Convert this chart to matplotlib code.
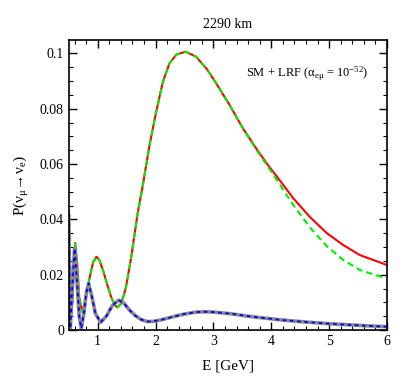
import matplotlib
matplotlib.use('Agg')
import matplotlib.pyplot as plt
from matplotlib.ticker import MultipleLocator, FuncFormatter

plt.rcParams['font.family'] = ['Liberation Serif', 'DejaVu Serif']
plt.rcParams['mathtext.fontset'] = 'custom'
plt.rcParams['mathtext.rm'] = 'Liberation Serif'
plt.rcParams['mathtext.it'] = 'Liberation Serif'

# energies (GeV) and probabilities
E_sm = [0.5, 0.52, 0.55, 0.58, 0.61, 0.645, 0.68, 0.728, 0.78, 0.85, 0.92, 0.977,
        1.03, 1.10, 1.17, 1.24, 1.30, 1.345, 1.40, 1.45, 1.49, 1.58, 1.69, 1.78,
        1.895, 2.01, 2.126, 2.24, 2.36, 2.52, 2.70, 2.88, 3.05, 3.28, 3.51, 3.74,
        3.95, 4.15, 4.38, 4.67, 4.96, 5.245, 5.53, 6.0]
P_red = [0.043, 0.024, 0.006, 0.019, 0.0315, 0.024, 0.012, 0.0066, 0.010, 0.018,
         0.0245, 0.0265, 0.0253, 0.021, 0.016, 0.0115, 0.0089, 0.0082, 0.0095,
         0.0125, 0.0157, 0.0265, 0.0422, 0.0524, 0.0668, 0.0789, 0.0897, 0.0964,
         0.0996, 0.1006, 0.0988, 0.0945, 0.0891, 0.0813, 0.0729, 0.0656, 0.0594,
         0.0540, 0.0476, 0.0408, 0.0350, 0.0307, 0.0271, 0.0235]
P_green = [0.043, 0.024, 0.006, 0.019, 0.0315, 0.024, 0.012, 0.0066, 0.010, 0.018,
           0.0245, 0.0265, 0.0253, 0.021, 0.016, 0.0115, 0.0089, 0.0082, 0.0095,
           0.0125, 0.0157, 0.0265, 0.0422, 0.0524, 0.0668, 0.0789, 0.0897, 0.0964,
           0.0996, 0.1006, 0.0988, 0.0945, 0.0891, 0.0813, 0.0729, 0.0652, 0.0588,
           0.0525, 0.0452, 0.0370, 0.0303, 0.0253, 0.0217, 0.0186]

E_lrf = [0.5, 0.513, 0.526, 0.56, 0.60, 0.64, 0.68, 0.717, 0.76, 0.80, 0.843, 0.90,
         0.96, 1.05, 1.15, 1.25, 1.36, 1.45, 1.55, 1.65, 1.75, 1.85, 1.95, 2.1, 2.3,
         2.5, 2.7, 2.85, 3.0, 3.3, 3.6, 3.8, 4.2, 4.6, 5.0, 5.5, 6.0]
P_gray = [0.0415, 0.02, 0.0005, 0.015, 0.0295, 0.018, 0.005, 0.0006, 0.006, 0.013,
          0.0169, 0.012, 0.006, 0.0028, 0.005, 0.0088, 0.0108, 0.0098, 0.0072,
          0.0052, 0.0038, 0.0031, 0.0031, 0.0037, 0.0048, 0.0058, 0.0065, 0.0066,
          0.0065, 0.0059, 0.0050, 0.0045, 0.0036, 0.0029, 0.0023, 0.0017, 0.0012]
P_blue = P_gray

fig = plt.figure(figsize=(4.07, 3.82), dpi=100)
ax = fig.add_axes([0.169, 0.136, 0.782, 0.759])

ax.plot(E_sm, P_red, color='#ff0000', lw=1.5)
ax.plot(E_sm, P_green, color='#00ee00', lw=1.5, ls=(0, (3, 2)))
ax.plot(E_lrf, P_gray, color='#888888', lw=2.6)
ax.plot(E_lrf, P_blue, color='#0000ff', lw=1.3, ls=(0, (2, 2)))

ax.set_xlim(0.5, 6)
ax.set_ylim(0, 0.1048)
ax.xaxis.set_major_locator(MultipleLocator(1))
ax.xaxis.set_minor_locator(MultipleLocator(0.2))
ax.yaxis.set_major_locator(MultipleLocator(0.02))
ax.yaxis.set_minor_locator(MultipleLocator(0.005))
ax.yaxis.set_major_formatter(FuncFormatter(lambda v, p: '%g' % round(v, 3)))
ax.tick_params(which='both', direction='in', top=True, right=True, labelsize=10)
ax.tick_params(which='major', length=6, width=1)
ax.tick_params(which='minor', length=3, width=0.8)
for s in ax.spines.values():
    s.set_linewidth(1.2)

ax.set_title('2290 km', fontsize=10, pad=9)
ax.set_xlabel('E [GeV]', fontsize=11, labelpad=8)
ax.set_ylabel(r'P($\nu_\mu\!\rightarrow\!\nu_e$)', fontsize=11, labelpad=6)
ax.text(0.94, 0.885, r'SM + LRF ($\alpha_{e\mu}$ = 10$^{-52}$)', transform=ax.transAxes,
        ha='right', va='center', fontsize=9)

fig.savefig('out.png', dpi=100)
